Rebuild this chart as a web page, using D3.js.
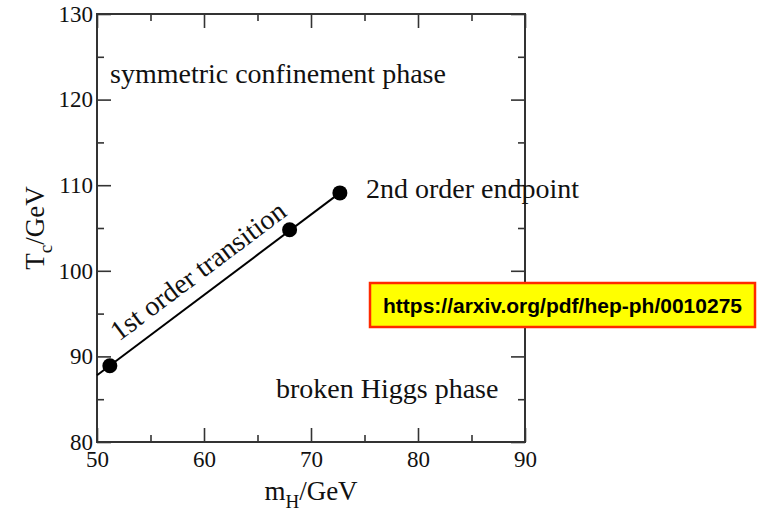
<!DOCTYPE html>
<html>
<head>
<meta charset="utf-8">
<script src="https://cdn.jsdelivr.net/npm/d3@7"></script>
<style>
  html, body { margin: 0; padding: 0; background: #fff; }
  svg { display: block; }
</style>
</head>
<body>
<svg id="chart" width="761" height="513"></svg>
<script>
// Lattice results: critical temperature vs Higgs mass
const higgsMass = [51.2, 68.0, 72.7];       // m_H / GeV
const critTemp  = [88.9, 104.8, 109.1];     // T_c / GeV
// first-order transition line, from the left edge to the endpoint
const lineMass = [50, 72.7];
const lineTemp = [87.8, 109.1];

const xMajor = [50, 60, 70, 80, 90];
const xMinor = [55, 65, 75, 85];
const yMajor = [80, 90, 100, 110, 120, 130];
const yMinor = [85, 95, 105, 115, 125];

const svg = d3.select("#chart");
const L = 97, R = 525, T = 14, B = 442;

const x = d3.scaleLinear().domain([50, 90]).range([L, R]);
const y = d3.scaleLinear().domain([80, 130]).range([B, T]);

const serif = "'Liberation Serif', 'Times New Roman', serif";
const axisColor = "#333";

function styleAxis(g) {
  g.select(".domain").remove();
  g.selectAll(".tick line").attr("stroke", axisColor).attr("stroke-width", 1.6);
  g.selectAll(".tick text").attr("fill", "#111")
    .style("font-family", serif).style("font-size", "23px");
}

// bottom / left axes with labels, ticks pointing inward
svg.append("g").attr("transform", `translate(0,${B})`)
  .call(d3.axisBottom(x).tickValues(xMajor).tickSizeInner(-14).tickSizeOuter(0).tickPadding(9).tickFormat(d3.format("d")))
  .call(styleAxis);
svg.append("g").attr("transform", `translate(0,${B})`)
  .call(d3.axisBottom(x).tickValues(xMinor).tickSizeInner(-7).tickSizeOuter(0).tickFormat(""))
  .call(styleAxis);
svg.append("g").attr("transform", `translate(${L},0)`)
  .call(d3.axisLeft(y).tickValues(yMajor).tickSizeInner(-14).tickSizeOuter(0).tickPadding(4).tickFormat(d3.format("d")))
  .call(styleAxis);
svg.append("g").attr("transform", `translate(${L},0)`)
  .call(d3.axisLeft(y).tickValues(yMinor).tickSizeInner(-7).tickSizeOuter(0).tickFormat(""))
  .call(styleAxis);

// mirrored ticks on top / right
svg.append("g").attr("transform", `translate(0,${T})`)
  .call(d3.axisTop(x).tickValues(xMajor).tickSizeInner(-14).tickSizeOuter(0).tickFormat(""))
  .call(styleAxis);
svg.append("g").attr("transform", `translate(0,${T})`)
  .call(d3.axisTop(x).tickValues(xMinor).tickSizeInner(-7).tickSizeOuter(0).tickFormat(""))
  .call(styleAxis);
svg.append("g").attr("transform", `translate(${R},0)`)
  .call(d3.axisRight(y).tickValues(yMajor).tickSizeInner(-14).tickSizeOuter(0).tickFormat(""))
  .call(styleAxis);
svg.append("g").attr("transform", `translate(${R},0)`)
  .call(d3.axisRight(y).tickValues(yMinor).tickSizeInner(-7).tickSizeOuter(0).tickFormat(""))
  .call(styleAxis);

// frame
svg.append("rect")
  .attr("x", L).attr("y", T).attr("width", R - L).attr("height", B - T)
  .attr("fill", "none").attr("stroke", axisColor).attr("stroke-width", 2);

// transition line
const linePts = lineMass.map((m, i) => [m, lineTemp[i]]);
svg.append("path")
  .attr("d", d3.line().x(d => x(d[0])).y(d => y(d[1]))(linePts))
  .attr("fill", "none").attr("stroke", "#000").attr("stroke-width", 2);

// data points
svg.selectAll("circle.pt").data(higgsMass.map((m, i) => [m, critTemp[i]]))
  .join("circle").attr("class", "pt")
  .attr("cx", d => x(d[0])).attr("cy", d => y(d[1])).attr("r", 7.5)
  .attr("fill", "#000");

// phase labels
const labelStyle = s => s.style("font-family", serif).style("font-size", "28px").attr("fill", "#111");
svg.append("text").attr("x", 110).attr("y", 83).text("symmetric confinement phase").call(labelStyle);
svg.append("text").attr("x", 366).attr("y", 198).text("2nd order endpoint").call(labelStyle);
svg.append("text").attr("x", 276).attr("y", 398).text("broken Higgs phase").call(labelStyle);

// label along the transition line
const ang = Math.atan2(y(lineTemp[1]) - y(lineTemp[0]), x(lineMass[1]) - x(lineMass[0])) * 180 / Math.PI;
svg.append("text")
  .attr("transform", `translate(${x(52.05)},${y(88.9) - 24}) rotate(${ang})`)
  .text("1st order transition").call(labelStyle);

// axis titles
const xt = svg.append("text").attr("x", (L + R) / 2).attr("y", 500)
  .attr("text-anchor", "middle").style("font-family", serif).style("font-size", "27px").attr("fill", "#111");
xt.append("tspan").text("m");
xt.append("tspan").attr("dy", 8).style("font-size", "19px").text("H");
xt.append("tspan").attr("dy", -8).text("/GeV");

const yt = svg.append("text").attr("transform", `translate(44,${(T + B) / 2}) rotate(-90)`)
  .attr("text-anchor", "middle").style("font-family", serif).style("font-size", "27px").attr("fill", "#111");
yt.append("tspan").text("T");
yt.append("tspan").attr("dy", 8).style("font-size", "19px").text("c");
yt.append("tspan").attr("dy", -8).text("/GeV");

// source link box
svg.append("rect").attr("x", 370).attr("y", 283).attr("width", 385).attr("height", 44)
  .attr("fill", "#ffff00").attr("stroke", "#ff2a00").attr("stroke-width", 2.5);
svg.append("text").attr("x", 562.5).attr("y", 312.5).attr("text-anchor", "middle")
  .style("font-family", "'Liberation Sans', Arial, sans-serif").style("font-weight", "bold")
  .style("font-size", "21px").attr("fill", "#000")
  .text("https://arxiv.org/pdf/hep-ph/0010275");
</script>
</body>
</html>
